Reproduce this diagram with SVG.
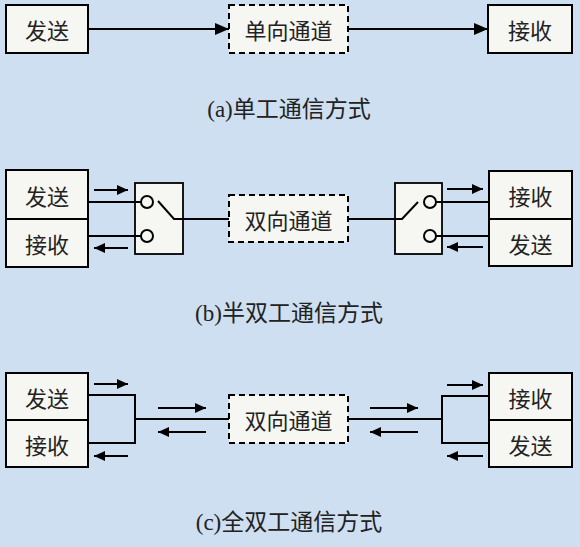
<svg xmlns="http://www.w3.org/2000/svg" width="580" height="547" viewBox="0 0 580 547">
<defs>
<style>
.box{fill:#f6f6f2;stroke:#000;stroke-width:2}
.dash{fill:#f6f6f2;stroke:#000;stroke-width:2;stroke-dasharray:6,4}
.ln{fill:none;stroke:#000;stroke-width:2}
.sw{fill:#f6f6f2;stroke:#000;stroke-width:1.8}
.cir{fill:#f6f6f2;stroke:#000;stroke-width:2}
.t{font-family:"Noto Sans CJK SC",sans-serif;font-size:22px;fill:#222;text-anchor:middle;dominant-baseline:central}
.cap{font-family:"Liberation Serif","Noto Sans CJK SC",serif;font-size:23px;fill:#222;text-anchor:middle}
</style>
<marker id="big" markerUnits="userSpaceOnUse" markerWidth="14" markerHeight="12" refX="14" refY="6" orient="auto"><path d="M0,0 L14,6 L0,12 z" fill="#000"/></marker>
<marker id="sm" markerUnits="userSpaceOnUse" markerWidth="11" markerHeight="10" refX="11" refY="5" orient="auto"><path d="M0,0 L11,5 L0,10 z" fill="#000"/></marker>
</defs>
<rect width="580" height="547" fill="#cddff0"/>

<g id="a-send"><rect class="box" x="6" y="5" width="82" height="48"/><text class="t" x="47" y="29">发送</text></g>
<g id="a-channel"><rect class="dash" x="229" y="5" width="119" height="48"/><text class="t" x="288.5" y="29">单向通道</text></g>
<g id="a-recv"><rect class="box" x="488" y="5" width="84" height="48"/><text class="t" x="530" y="29">接收</text></g>
<text class="cap" x="289" y="117">(a)单工通信方式</text>

<g id="b-left">
<rect class="box" x="6" y="170" width="82" height="49"/><text class="t" x="47" y="194.5">发送</text>
<rect class="box" x="6" y="219" width="82" height="48"/><text class="t" x="47" y="243">接收</text>
</g>
<g id="b-switch-left">
<rect class="sw" x="135" y="183" width="48" height="71"/>
</g>
<g id="b-channel"><rect class="dash" x="229" y="195" width="119" height="47"/><text class="t" x="288.5" y="218.5">双向通道</text></g>
<g id="b-switch-right">
<rect class="sw" x="395" y="183" width="47" height="71"/>
</g>
<g id="b-right">
<rect class="box" x="489" y="171" width="83" height="48"/><text class="t" x="530.5" y="195">接收</text>
<rect class="box" x="489" y="219" width="83" height="47"/><text class="t" x="530.5" y="242.5">发送</text>
</g>
<text class="cap" x="289" y="321">(b)半双工通信方式</text>

<g id="c-left">
<rect class="box" x="6" y="373" width="82" height="47"/><text class="t" x="47" y="396.5">发送</text>
<rect class="box" x="6" y="420" width="82" height="47"/><text class="t" x="47" y="443.5">接收</text>
</g>
<g id="c-channel"><rect class="dash" x="229" y="395" width="119" height="48"/><text class="t" x="288.5" y="419">双向通道</text></g>
<g id="c-right">
<rect class="box" x="489" y="373" width="83" height="47"/><text class="t" x="530.5" y="396.5">接收</text>
<rect class="box" x="489" y="420" width="83" height="47"/><text class="t" x="530.5" y="443.5">发送</text>
</g>
<text class="cap" x="289" y="530">(c)全双工通信方式</text>

<g id="connectors">
<path class="ln" d="M88,29 H229" marker-end="url(#big)"/>
<path class="ln" d="M348,29 H488" marker-end="url(#big)"/>
<path class="ln" d="M94,190 H128" marker-end="url(#sm)"/>
<path class="ln" d="M128,248 H94" marker-end="url(#sm)"/>
<path class="ln" d="M447,189 H483" marker-end="url(#sm)"/>
<path class="ln" d="M483,247 H447" marker-end="url(#sm)"/>
<path class="ln" d="M88,202 H141 M88,236 H141"/>
<path class="ln" d="M158,201 L174,219 H229"/>
<path class="ln" d="M348,219 H402 L418,202"/>
<path class="ln" d="M436,202 H489 M436,236 H489"/>
<circle class="cir" cx="147" cy="202" r="6"/><circle class="cir" cx="147" cy="236" r="6"/>
<circle class="cir" cx="430" cy="202" r="6"/><circle class="cir" cx="430" cy="236" r="6"/>
<path class="ln" d="M94,384 H128" marker-end="url(#sm)"/>
<path class="ln" d="M128,456 H94" marker-end="url(#sm)"/>
<path class="ln" d="M88,395 H135 V443 H88 M135,419 H229"/>
<path class="ln" d="M158,408 H206" marker-end="url(#sm)"/>
<path class="ln" d="M206,432 H158" marker-end="url(#sm)"/>
<path class="ln" d="M370,408 H418" marker-end="url(#sm)"/>
<path class="ln" d="M418,432 H370" marker-end="url(#sm)"/>
<path class="ln" d="M348,419 H442 M489,396 H442 V443 H489"/>
<path class="ln" d="M447,385 H483" marker-end="url(#sm)"/>
<path class="ln" d="M483,456 H447" marker-end="url(#sm)"/>
</g>
</svg>
